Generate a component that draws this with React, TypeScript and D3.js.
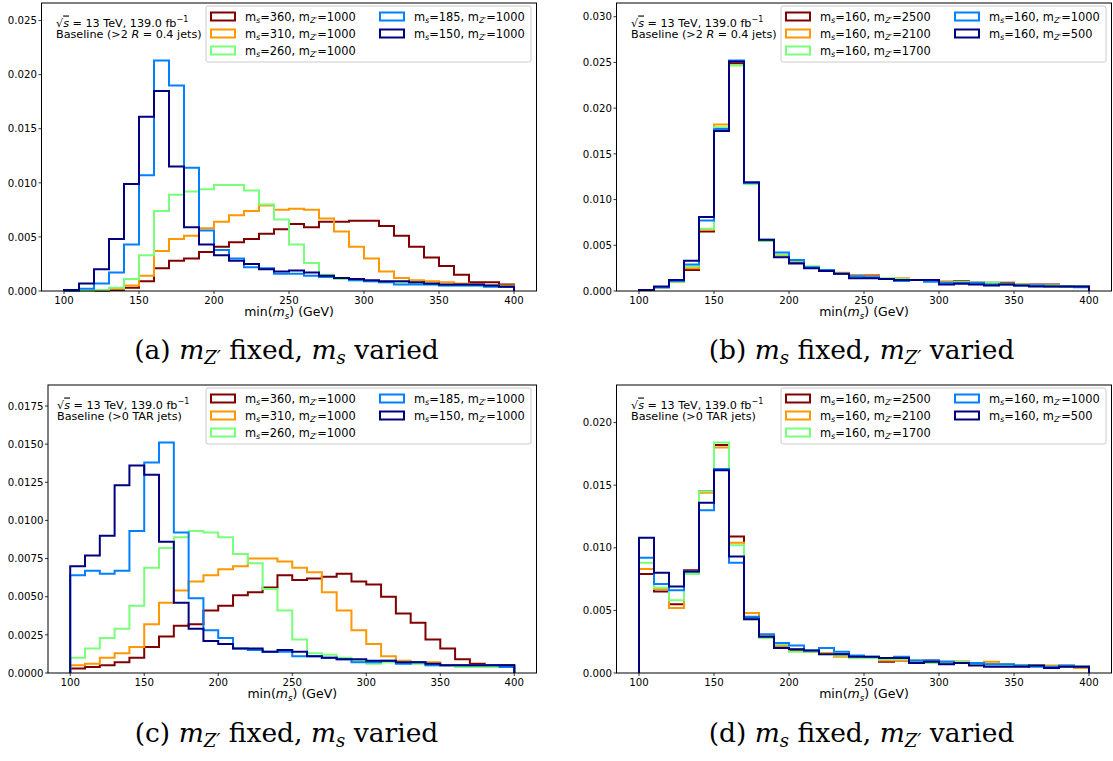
import React from 'react';
import * as d3 from 'd3';

// ---------- shared axis data ----------
const BIN_EDGES = [100, 110, 120, 130, 140, 150, 160, 170, 180, 190, 200, 210, 220, 230, 240, 250, 260, 270, 280, 290, 300, 310, 320, 330, 340, 350, 360, 370, 380, 390, 400];
const X_TICKS = [100, 150, 200, 250, 300, 350, 400];
const X_DOMAIN = [85, 415];

const Y_TICKS_A = [0, 0.005, 0.01, 0.015, 0.02, 0.025];
const Y_TICKS_B = [0, 0.005, 0.01, 0.015, 0.02, 0.025, 0.03];
const Y_TICKS_C = [0, 0.0025, 0.005, 0.0075, 0.01, 0.0125, 0.015, 0.0175];
const Y_TICKS_D = [0, 0.005, 0.01, 0.015, 0.02];

const COLORS = ['#800000', '#ff9700', '#7aff7a', '#0080ff', '#000080'];

// legend labels
const MS_VARIED = [360, 310, 260, 185, 150];
const MZ_FIXED = [1000, 1000, 1000, 1000, 1000];
const MS_FIXED = [160, 160, 160, 160, 160];
const MZ_VARIED = [2500, 2100, 1700, 1000, 500];

// ---------- panel (a): >2 R=0.4 jets, m_s varied ----------
const A_MS360 = [0, 0, 0.00002, 0.0001, 0.0003, 0.0009, 0.0021, 0.0028, 0.0030, 0.0036, 0.0041, 0.0045, 0.0048, 0.0053, 0.0057, 0.0062, 0.0059, 0.0064, 0.0064, 0.0065, 0.0065, 0.0060, 0.0051, 0.0041, 0.0031, 0.0023, 0.0015, 0.0008, 0.0008, 0.0006];
const A_MS310 = [0, 0, 0.0001, 0.0002, 0.0005, 0.0014, 0.0037, 0.0048, 0.0051, 0.0058, 0.0064, 0.0070, 0.0074, 0.0079, 0.0075, 0.0076, 0.0075, 0.0067, 0.0055, 0.0041, 0.0030, 0.0018, 0.0012, 0.0010, 0.0009, 0.0008, 0.0007, 0.0006, 0.0005, 0.0005];
const A_MS260 = [0, 0.00003, 0.0001, 0.0003, 0.0011, 0.0033, 0.0074, 0.0089, 0.0092, 0.0094, 0.0098, 0.0098, 0.0093, 0.0080, 0.0066, 0.0043, 0.0026, 0.0015, 0.0011, 0.0010, 0.0009, 0.0008, 0.0008, 0.0007, 0.0006, 0.0005, 0.0005, 0.0005, 0.0005, 0.0004];
const A_MS185 = [0, 0.0002, 0.0007, 0.0017, 0.0043, 0.0107, 0.0213, 0.0190, 0.0114, 0.0056, 0.0038, 0.0030, 0.0022, 0.0021, 0.0016, 0.0016, 0.0014, 0.0013, 0.0012, 0.0010, 0.0009, 0.0008, 0.0006, 0.0006, 0.0006, 0.0005, 0.0005, 0.0005, 0.0004, 0.0004];
const A_MS150 = [0.0001, 0.0007, 0.0020, 0.0048, 0.0099, 0.0161, 0.0185, 0.0115, 0.0059, 0.0043, 0.0033, 0.0028, 0.0025, 0.0020, 0.0018, 0.0019, 0.0017, 0.0014, 0.0012, 0.0011, 0.0010, 0.0009, 0.0009, 0.0008, 0.0007, 0.0006, 0.0006, 0.0006, 0.0005, 0.0004];

// ---------- panel (b): >2 R=0.4 jets, m_Z' varied ----------
const B_MZ2500 = [0.0001, 0.0004, 0.0010, 0.0023, 0.0065, 0.0178, 0.0249, 0.0118, 0.0055, 0.0039, 0.0032, 0.0026, 0.0022, 0.0019, 0.0017, 0.0017, 0.0013, 0.0013, 0.0012, 0.0011, 0.0010, 0.0011, 0.0009, 0.0009, 0.0009, 0.0007, 0.0007, 0.0007, 0.0005, 0.0005];
const B_MZ2100 = [0.0001, 0.0004, 0.0010, 0.0025, 0.0067, 0.0182, 0.0247, 0.0118, 0.0055, 0.0039, 0.0033, 0.0026, 0.0023, 0.0020, 0.0017, 0.0016, 0.0013, 0.0014, 0.0012, 0.0011, 0.0010, 0.0010, 0.0009, 0.0008, 0.0008, 0.0007, 0.0006, 0.0006, 0.0005, 0.0005];
const B_MZ1700 = [0.0001, 0.0004, 0.0010, 0.0027, 0.0068, 0.0179, 0.0247, 0.0117, 0.0055, 0.0040, 0.0033, 0.0027, 0.0023, 0.0019, 0.0016, 0.0015, 0.0014, 0.0013, 0.0012, 0.0011, 0.0009, 0.0010, 0.0009, 0.0009, 0.0008, 0.0007, 0.0006, 0.0006, 0.0005, 0.0005];
const B_MZ1000 = [0.0001, 0.0004, 0.0011, 0.0029, 0.0077, 0.0177, 0.0252, 0.0118, 0.0056, 0.0042, 0.0034, 0.0026, 0.0023, 0.0019, 0.0016, 0.0015, 0.0013, 0.0011, 0.0012, 0.0010, 0.0009, 0.0009, 0.0009, 0.0007, 0.0007, 0.0006, 0.0006, 0.0005, 0.0005, 0.0004];
const B_MZ500 = [0.0001, 0.0005, 0.0012, 0.0033, 0.0081, 0.0175, 0.0251, 0.0119, 0.0056, 0.0037, 0.0030, 0.0025, 0.0022, 0.0019, 0.0014, 0.0014, 0.0013, 0.0012, 0.0012, 0.0012, 0.0007, 0.0008, 0.0007, 0.0006, 0.0007, 0.0006, 0.0005, 0.0005, 0.0005, 0.0005];

// ---------- panel (c): >0 TAR jets, m_s varied ----------
const C_MS360 = [0.0003, 0.0004, 0.0005, 0.0007, 0.0010, 0.0017, 0.0024, 0.0031, 0.0032, 0.0041, 0.0044, 0.0051, 0.0053, 0.0056, 0.0064, 0.0061, 0.0062, 0.0063, 0.0065, 0.0060, 0.0058, 0.0050, 0.0039, 0.0033, 0.0022, 0.0016, 0.0009, 0.0006, 0.0005, 0.0005];
const C_MS310 = [0.0005, 0.0006, 0.0010, 0.0013, 0.0017, 0.0032, 0.0046, 0.0054, 0.0060, 0.0064, 0.0068, 0.0070, 0.0075, 0.0075, 0.0073, 0.0069, 0.0066, 0.0053, 0.0041, 0.0028, 0.0019, 0.0011, 0.0008, 0.0007, 0.0007, 0.0005, 0.0005, 0.0005, 0.0004, 0.0004];
const C_MS260 = [0.0010, 0.0016, 0.0023, 0.0029, 0.0044, 0.0069, 0.0082, 0.0089, 0.0093, 0.0092, 0.0089, 0.0078, 0.0072, 0.0055, 0.0041, 0.0022, 0.0013, 0.0012, 0.0010, 0.0008, 0.0006, 0.0007, 0.0007, 0.0006, 0.0005, 0.0005, 0.0004, 0.0004, 0.0004, 0.0004];
const C_MS185 = [0.0064, 0.0067, 0.0065, 0.0067, 0.0093, 0.0138, 0.0151, 0.0092, 0.0049, 0.0028, 0.0023, 0.0016, 0.0015, 0.0014, 0.0014, 0.0011, 0.0011, 0.0010, 0.0009, 0.0007, 0.0007, 0.0008, 0.0006, 0.0007, 0.0005, 0.0005, 0.0005, 0.0005, 0.0005, 0.0004];
const C_MS150 = [0.0070, 0.0077, 0.0090, 0.0123, 0.0136, 0.0130, 0.0086, 0.0046, 0.0029, 0.0021, 0.0019, 0.0016, 0.0016, 0.0014, 0.0015, 0.0014, 0.0011, 0.0010, 0.0009, 0.0009, 0.0008, 0.0008, 0.0007, 0.0007, 0.0006, 0.0005, 0.0005, 0.0005, 0.0005, 0.0005];

// ---------- panel (d): >0 TAR jets, m_Z' varied ----------
const D_MZ2500 = [0.0079, 0.0065, 0.0055, 0.0082, 0.0145, 0.0182, 0.0109, 0.0044, 0.0030, 0.0022, 0.0018, 0.0017, 0.0016, 0.0015, 0.0013, 0.0012, 0.0009, 0.0010, 0.0009, 0.0010, 0.0009, 0.0009, 0.0007, 0.0007, 0.0006, 0.0006, 0.0006, 0.0005, 0.0005, 0.0005];
const D_MZ2100 = [0.0083, 0.0067, 0.0052, 0.0081, 0.0144, 0.0180, 0.0104, 0.0048, 0.0030, 0.0022, 0.0019, 0.0017, 0.0016, 0.0013, 0.0013, 0.0012, 0.0010, 0.0010, 0.0010, 0.0009, 0.0008, 0.0009, 0.0008, 0.0009, 0.0007, 0.0006, 0.0006, 0.0006, 0.0006, 0.0004];
const D_MZ1700 = [0.0088, 0.0068, 0.0058, 0.0079, 0.0145, 0.0184, 0.0102, 0.0043, 0.0028, 0.0023, 0.0017, 0.0017, 0.0015, 0.0014, 0.0012, 0.0012, 0.0011, 0.0011, 0.0010, 0.0008, 0.0009, 0.0009, 0.0007, 0.0007, 0.0006, 0.0006, 0.0006, 0.0005, 0.0005, 0.0005];
const D_MZ1000 = [0.0092, 0.0071, 0.0066, 0.0081, 0.0130, 0.0163, 0.0088, 0.0045, 0.0031, 0.0024, 0.0022, 0.0018, 0.0020, 0.0017, 0.0014, 0.0013, 0.0012, 0.0013, 0.0010, 0.0010, 0.0009, 0.0008, 0.0008, 0.0007, 0.0007, 0.0006, 0.0005, 0.0005, 0.0006, 0.0005];
const D_MZ500 = [0.0108, 0.0080, 0.0069, 0.0081, 0.0136, 0.0162, 0.0093, 0.0043, 0.0029, 0.0020, 0.0019, 0.0018, 0.0015, 0.0015, 0.0013, 0.0013, 0.0012, 0.0012, 0.0008, 0.0009, 0.0007, 0.0008, 0.0006, 0.0005, 0.0005, 0.0005, 0.0006, 0.0004, 0.0005, 0.0005];

const FONT = 'DejaVu Sans, sans-serif';
const SERIF = 'DejaVu Serif, serif';

type PanelCfg = {
  frame: { left: number; right: number; top: number; bottom: number };
  series: number[][];
  ms: number[];
  mz: number[];
  yTicks: number[];
  yFmt: string;
  selection: string;
  noteX: number;
  caption: { letter: string; fixedSub: string; variedSub: string };
  captionX: number;
  captionY: number;
};

const PANELS: PanelCfg[] = [
  {
    frame: { left: 41.5, right: 536.5, top: 3, bottom: 291 },
    series: [A_MS360, A_MS310, A_MS260, A_MS185, A_MS150],
    ms: MS_VARIED, mz: MZ_FIXED, yTicks: Y_TICKS_A, yFmt: '.3f',
    selection: 'R04', noteX: 56,
    caption: { letter: '(a)', fixedSub: 'Z′', variedSub: 's' }, captionX: 286.5, captionY: 359,
  },
  {
    frame: { left: 616.5, right: 1111.5, top: 3, bottom: 291 },
    series: [B_MZ2500, B_MZ2100, B_MZ1700, B_MZ1000, B_MZ500],
    ms: MS_FIXED, mz: MZ_VARIED, yTicks: Y_TICKS_B, yFmt: '.3f',
    selection: 'R04', noteX: 631,
    caption: { letter: '(b)', fixedSub: 's', variedSub: 'Z′' }, captionX: 861.5, captionY: 359,
  },
  {
    frame: { left: 48, right: 536.5, top: 385, bottom: 673 },
    series: [C_MS360, C_MS310, C_MS260, C_MS185, C_MS150],
    ms: MS_VARIED, mz: MZ_FIXED, yTicks: Y_TICKS_C, yFmt: '.4f',
    selection: 'TAR', noteX: 57,
    caption: { letter: '(c)', fixedSub: 'Z′', variedSub: 's' }, captionX: 286.5, captionY: 742,
  },
  {
    frame: { left: 616.5, right: 1111.5, top: 385, bottom: 673 },
    series: [D_MZ2500, D_MZ2100, D_MZ1700, D_MZ1000, D_MZ500],
    ms: MS_FIXED, mz: MZ_VARIED, yTicks: Y_TICKS_D, yFmt: '.3f',
    selection: 'TAR', noteX: 631,
    caption: { letter: '(d)', fixedSub: 's', variedSub: 'Z′' }, captionX: 861.5, captionY: 742,
  },
];

function LegendLabel({ x, y, ms, mz, fs }: { x: number; y: number; ms: number; mz: number; fs: number }) {
  const sub = fs * 0.22;
  return (
    <text x={x} y={y} fontSize={fs} fontFamily={FONT} fill="#000">
      m
      <tspan fontStyle="italic" fontSize={fs * 0.7} dy={sub}>s</tspan>
      <tspan dy={-sub}>{`=${ms}, m`}</tspan>
      <tspan fontStyle="italic" fontSize={fs * 0.7} dy={sub}>Z′</tspan>
      <tspan dy={-sub}>{`=${mz}`}</tspan>
    </text>
  );
}

function Panel({ p }: { p: PanelCfg }) {
  const { left, right, top, bottom } = p.frame;
  const x = d3.scaleLinear().domain(X_DOMAIN).range([left, right]);
  const ymax = 1.25 * (d3.max(p.series.flat()) as number);
  const y = d3.scaleLinear().domain([0, ymax]).range([bottom, top]);
  const fmt = d3.format(p.yFmt);
  const line = d3.line<[number, number]>().x((d) => x(d[0])).y((d) => y(d[1]));
  const stepPath = (vals: number[]) => {
    const pts: [number, number][] = [[BIN_EDGES[0], 0]];
    vals.forEach((v, i) => {
      pts.push([BIN_EDGES[i], v]);
      pts.push([BIN_EDGES[i + 1], v]);
    });
    pts.push([BIN_EDGES[BIN_EDGES.length - 1], 0]);
    return line(pts) as string;
  };

  const tickFs = 10.2;
  const legFs = 11.4;
  const boxW = 325;
  const boxH = 56;
  const boxL = right - 5.5 - boxW;
  const boxT = top + 3;
  const rows = [10.5, 27.5, 44.5];
  const cols = [5, 174];

  return (
    <g>
      {/* histograms */}
      {p.series.map((s, i) => (
        <path key={i} d={stepPath(s)} fill="none" stroke={COLORS[i]} strokeWidth={2} strokeLinejoin="miter" />
      ))}
      {/* frame */}
      <rect x={left} y={top} width={right - left} height={bottom - top} fill="none" stroke="#000" strokeWidth={1} />
      {/* x ticks */}
      {X_TICKS.map((t) => (
        <g key={t}>
          <line x1={x(t)} x2={x(t)} y1={bottom} y2={bottom + 3} stroke="#000" strokeWidth={0.8} />
          <text x={x(t)} y={bottom + 12.5} fontSize={tickFs} fontFamily={FONT} textAnchor="middle" fill="#000">{t}</text>
        </g>
      ))}
      {/* y ticks */}
      {p.yTicks.map((t) => (
        <g key={t}>
          <line x1={left - 3} x2={left} y1={y(t)} y2={y(t)} stroke="#000" strokeWidth={0.8} />
          <text x={left - 4.5} y={y(t) + 3.7} fontSize={tickFs} fontFamily={FONT} textAnchor="end" fill="#000">{fmt(t)}</text>
        </g>
      ))}
      {/* x label */}
      <text x={x(250)} y={bottom + 25} fontSize={12.5} fontFamily={FONT} textAnchor="middle" fill="#000">
        min(<tspan fontStyle="italic">m</tspan>
        <tspan fontStyle="italic" fontSize={8.75} dy={2.8}>s</tspan>
        <tspan dy={-2.8}>) (GeV)</tspan>
      </text>
      {/* annotation */}
      <text x={p.noteX} y={top + 23.5} fontSize={11.2} fontFamily={FONT} fill="#000">
        √<tspan fontStyle="italic" style={{ textDecoration: 'overline' }}>s</tspan>
        <tspan>{' = 13 TeV, 139.0 fb'}</tspan>
        <tspan fontSize={8} dy={-4.5}>−1</tspan>
      </text>
      <text x={p.noteX} y={top + 34.5} fontSize={11.2} fontFamily={FONT} fill="#000">
        {p.selection === 'R04' ? (
          <>
            {'Baseline (>2 '}
            <tspan fontStyle="italic">R</tspan>
            {' = 0.4 jets)'}
          </>
        ) : (
          'Baseline (>0 TAR jets)'
        )}
      </text>
      {/* legend */}
      <rect x={boxL} y={boxT} width={boxW} height={boxH} rx={2} fill="#fff" fillOpacity={0.8} stroke="#cccccc" strokeWidth={1} />
      {p.ms.map((m, i) => {
        const col = i < 3 ? 0 : 1;
        const row = i < 3 ? i : i - 3;
        const px = boxL + cols[col];
        const py = boxT + rows[row];
        return (
          <g key={i}>
            <rect x={px} y={py - 4} width={24} height={8} fill="none" stroke={COLORS[i]} strokeWidth={2} />
            <LegendLabel x={px + 34} y={py + 4} ms={m} mz={p.mz[i]} fs={legFs} />
          </g>
        );
      })}
      {/* caption */}
      <text x={p.captionX} y={p.captionY} fontSize={26.5} fontFamily={SERIF} textAnchor="middle" fill="#000">
        {p.caption.letter + ' '}
        <tspan fontStyle="italic">m</tspan>
        <tspan fontStyle="italic" fontSize={18} dy={5}>{p.caption.fixedSub}</tspan>
        <tspan dy={-5}>{' fixed, '}</tspan>
        <tspan fontStyle="italic">m</tspan>
        <tspan fontStyle="italic" fontSize={18} dy={5}>{p.caption.variedSub}</tspan>
        <tspan dy={-5}>{' varied'}</tspan>
      </text>
    </g>
  );
}

export default function App() {
  return (
    <svg
      width={1113}
      height={761}
      viewBox="0 0 1113 761"
      style={{ position: 'absolute', left: 0, top: 0, background: '#fff' }}
    >
      <rect x={0} y={0} width={1113} height={761} fill="#fff" />
      {PANELS.map((p, i) => (
        <Panel key={i} p={p} />
      ))}
    </svg>
  );
}
